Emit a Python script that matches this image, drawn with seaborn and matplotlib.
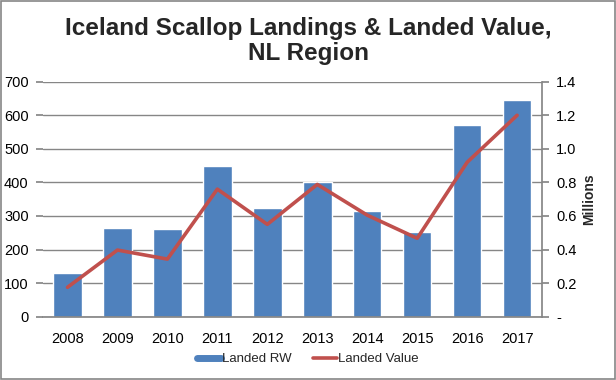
import numpy as np
import matplotlib
matplotlib.use("Agg")
import matplotlib.pyplot as plt
import seaborn as sns
from matplotlib.patches import Rectangle
from matplotlib.lines import Line2D
from matplotlib.ticker import FuncFormatter

years = ["2008", "2009", "2010", "2011", "2012", "2013", "2014", "2015", "2016", "2017"]
landed_rw = [131, 265, 261, 448, 324, 402, 315, 253, 571, 645]
landed_value = [0.175, 0.397, 0.343, 0.76, 0.55, 0.788, 0.605, 0.467, 0.92, 1.20]

blue = "#4F81BD"
red = "#C0504D"
grey = "#868686"

sns.set_theme(style="white")
plt.rcParams["font.family"] = ["Liberation Sans", "DejaVu Sans"]

fig, ax = plt.subplots(figsize=(6.16, 3.8), dpi=100)
fig.subplots_adjust(left=0.069, right=0.880, top=0.785, bottom=0.1666)

# bars: landed round weight
sns.barplot(x=years, y=landed_rw, color=blue, width=0.57, saturation=1, ax=ax, zorder=2)
ax.set_ylim(0, 700)
ax.set_yticks(range(0, 701, 100))
ax.set_xlim(-0.5, 9.5)
ax.grid(axis="y", color=grey, linewidth=1, zorder=0)
ax.set_axisbelow(True)
for s in ["top", "right", "left"]:
    ax.spines[s].set_visible(False)
ax.spines["bottom"].set_color(grey)
ax.tick_params(axis="y", left=True, length=5, color=grey, labelsize=10.5, pad=5, labelcolor="black")
ax.tick_params(axis="x", bottom=False, labelsize=10.5, pad=5, labelcolor="black")
ax.set_xlabel("")
ax.set_ylabel("")

# line: landed value (millions)
ax2 = ax.twinx()
sns.lineplot(x=np.arange(len(years)), y=landed_value, color=red, linewidth=2.6, ax=ax2)
ax2.set_ylim(0, 1.4)
ax2.set_yticks(np.arange(0, 1.41, 0.2))
ax2.yaxis.set_major_formatter(FuncFormatter(lambda v, p: "-" if abs(v) < 1e-9 else f"{v:.1f}"))
for s in ["top", "left", "bottom"]:
    ax2.spines[s].set_visible(False)
ax2.spines["right"].set_color(grey)
ax2.tick_params(axis="y", right=True, length=5, color=grey, labelsize=10.5, pad=5, labelcolor="black")
ax2.set_ylabel("Millions", fontsize=10, fontweight="bold", labelpad=4)
ax2.set_xlim(-0.5, 9.5)

fig.text(0.5, 1 - 41 / 380, "Iceland Scallop Landings & Landed Value,\nNL Region",
         ha="center", va="center", fontsize=17.5, fontweight="bold", linespacing=1.15)

handles = [Line2D([0], [0], color=blue, linewidth=5),
           Line2D([0], [0], color=red, linewidth=2.6)]
fig.legend(handles, ["Landed RW", "Landed Value"], loc="center",
           bbox_to_anchor=(0.5, 1 - 359 / 380), ncol=2, frameon=False,
           fontsize=9.5, handlelength=1.8, handletextpad=0.1, columnspacing=1.6)

fig.patches.append(Rectangle((0.001, 0.002), 0.997, 0.996, transform=fig.transFigure,
                             fill=False, edgecolor=grey, linewidth=1.2))

fig.savefig("out.png", dpi=100)
